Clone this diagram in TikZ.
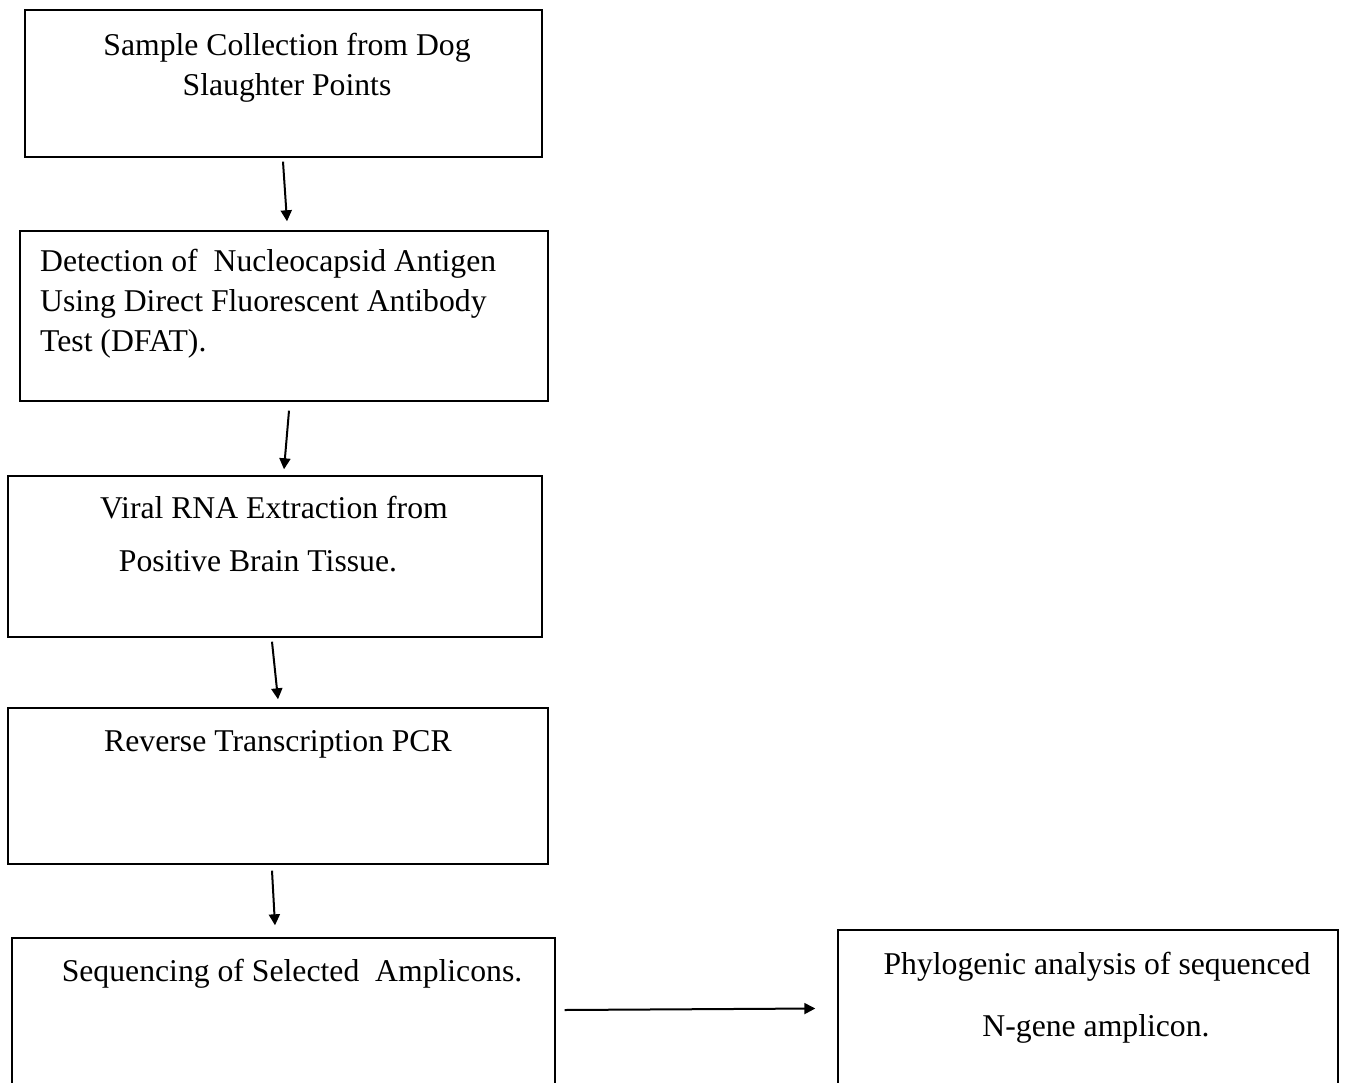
\documentclass[tikz,border=0pt]{standalone}
\usepackage{fontspec}
\setmainfont{Liberation Serif}
\usetikzlibrary{arrows.meta}
\begin{document}
\begin{tikzpicture}[x=1pt,y=-1pt,
  stepbox/.style={draw=black,line width=1.4pt,rectangle,inner sep=0pt},
  txt/.style={font=\fontsize{31.7}{38}\selectfont,inner sep=0pt,anchor=base},
  arr/.style={line width=2pt,-{Triangle[width=11pt,length=11pt]}}]
\useasboundingbox (0,0) rectangle (1359,1083);
\clip (0,0) rectangle (1359,1083);
% boxes
\node[stepbox,minimum width=517pt,minimum height=147pt] (b1) at (283.5,83.5) {};
\node[stepbox,minimum width=528pt,minimum height=170pt] (b2) at (284,316) {};
\node[stepbox,minimum width=534pt,minimum height=161pt] (b3) at (275,556.5) {};
\node[stepbox,minimum width=540pt,minimum height=156pt] (b4) at (278,786) {};
\node[stepbox,minimum width=543pt,minimum height=180pt] (b5) at (283.5,1028) {};
\node[stepbox,minimum width=500pt,minimum height=180pt] (b6) at (1088,1020) {};
% texts
\node[txt] (t1a) at (287,56) {Sample Collection from Dog};
\node[txt] (t1b) at (287,96) {Slaughter Points};
\node[txt,anchor=base west] (t2a) at (40,271) {Detection of\ \ Nucleocapsid Antigen};
\node[txt,anchor=base west] (t2b) at (40,311) {Using Direct Fluorescent Antibody};
\node[txt,anchor=base west] (t2c) at (40,351) {Test (DFAT).};
\node[txt] (t3a) at (274,518) {Viral RNA Extraction from};
\node[txt] (t3b) at (258,571) {Positive Brain Tissue.};
\node[txt] (t4a) at (278,751) {Reverse Transcription PCR};
\node[txt] (t5a) at (292,981) {Sequencing of Selected\ \ Amplicons.};
\node[txt] (t6a) at (1097,974) {Phylogenic analysis of sequenced};
\node[txt] (t6b) at (1096,1036) {N-gene amplicon.};
% arrows
\draw[arr] ([xshift=-0.5pt,yshift=-4pt]b1.south) -- ([xshift=3pt,yshift=9pt]b2.north);
\draw[arr] ([xshift=5pt,yshift=-9pt]b2.south) -- ([xshift=9pt,yshift=6pt]b3.north);
\draw[arr] ([xshift=-3pt,yshift=-4pt]b3.south) -- ([yshift=8pt]b4.north);
\draw[arr] ([xshift=-6pt,yshift=-6pt]b4.south) -- ([xshift=-8.5pt,yshift=12pt]b5.north);
\draw[arr] ([xshift=9pt,yshift=18pt]b5.east) -- ([xshift=-22pt,yshift=11.5pt]b6.west);
\end{tikzpicture}
\end{document}
